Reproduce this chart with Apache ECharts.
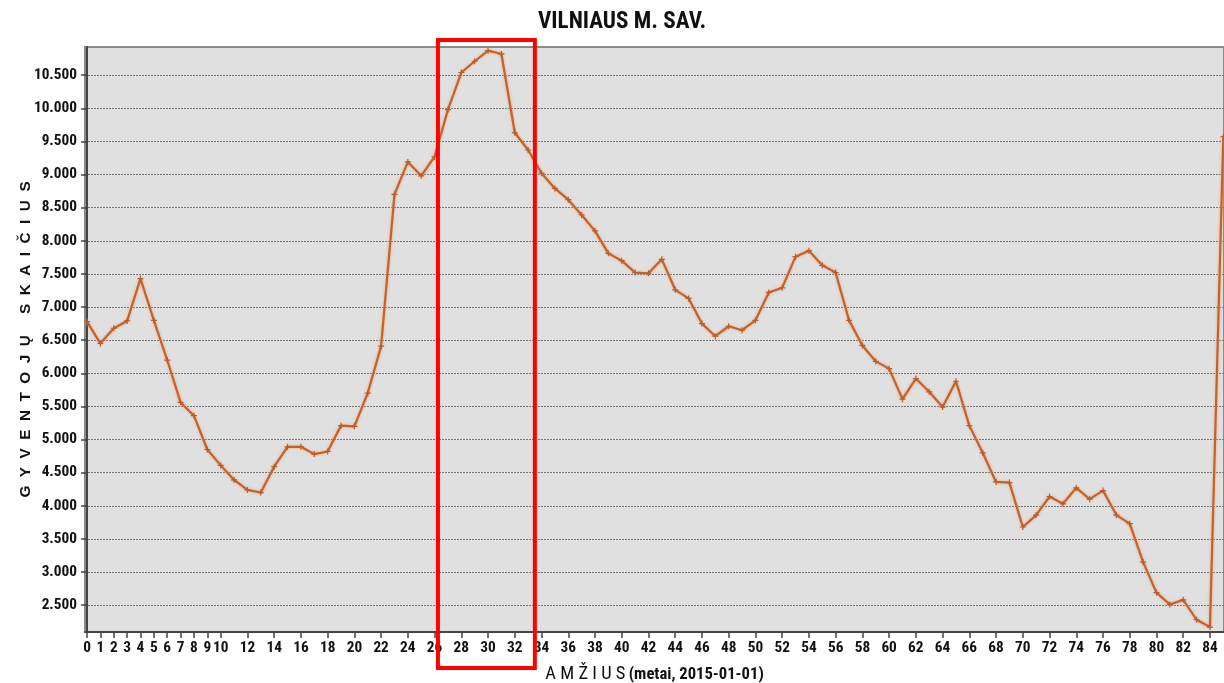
<!DOCTYPE html>
<html>
<head>
<meta charset="utf-8">
<script src="https://cdn.jsdelivr.net/npm/echarts@6/dist/echarts.min.js"></script>
<style>
html,body{margin:0;padding:0;background:#fff;}
#main{width:1224px;height:683px;}
</style>
</head>
<body>
<div id="main"></div>
<script>
// ---- data ----
const ages = [0,1,2,3,4,5,6,7,8,9,10,11,12,13,14,15,16,17,18,19,20,21,22,23,24,25,26,27,28,29,30,31,32,33,34,35,36,37,38,39,40,41,42,43,44,45,46,47,48,49,50,51,52,53,54,55,56,57,58,59,60,61,62,63,64,65,66,67,68,69,70,71,72,73,74,75,76,77,78,79,80,81,82,83,84,85];
const residents = [6780,6450,6680,6790,7430,6800,6200,5560,5360,4850,4610,4390,4240,4200,4590,4890,4890,4780,4820,5210,5200,5700,6410,8700,9190,8980,9270,9980,10540,10710,10870,10820,9630,9370,9020,8790,8620,8390,8150,7810,7700,7520,7510,7720,7260,7130,6750,6560,6710,6650,6800,7220,7290,7760,7850,7630,7520,6800,6420,6180,6070,5610,5920,5720,5490,5880,5210,4800,4360,4350,3680,3860,4140,4030,4270,4100,4230,3860,3730,3150,2690,2510,2580,2280,2170,9570];
const xTicks = [0,1,2,3,4,5,6,7,8,9,10,12,14,16,18,20,22,24,26,28,30,32,34,36,38,40,42,44,46,48,50,52,54,56,58,60,62,64,66,68,70,72,74,76,78,80,82,84];
const yTicks = [2500,3000,3500,4000,4500,5000,5500,6000,6500,7000,7500,8000,8500,9000,9500,10000,10500];
const highlightAges = [26.25, 33.5];
const titleText = 'VILNIAUS M. SAV.';
const yNameWords = ['GYVENTOJŲ', 'SKAIČIUS'];
const xNameA = 'A M Ž I U S';
const xNameB = '(metai, 2015-01-01)';

const NARROW = '"Roboto Condensed", "Open Sans Condensed", "Liberation Sans Narrow", "DejaVu Sans Condensed", sans-serif';
const WIDE = '"Liberation Sans", Arial, "DejaVu Sans", sans-serif';

// font sizing helpers (match text widths of the reference)
const mctx = document.createElement('canvas').getContext('2d');
function textW(text, family, weight, size) { mctx.font = weight + ' ' + size + 'px ' + family; return mctx.measureText(text).width; }
function fit(text, family, weight, target) { return Math.round(100 * target / textW(text, family, weight, 100) * 10) / 10; }

const titleSize = fit(titleText, NARROW, 'bold', 168);
const titleW = textW(titleText, NARROW, 'bold', titleSize);
const yLabSize = fit('10.500', NARROW, 'bold', 43);
const xLabSize = fit('12', NARROW, 'bold', 15.5);
const xNameASize = fit(xNameA, NARROW, 'normal', 80);
const xNameBSize = fit(xNameB, NARROW, 'bold', 135);
const yName = yNameWords.map(w => w.split('').join('  ')).join('     ');
const yNameSize = fit(yName, WIDE, 'bold', 316);

const seriesData = ages.map((a, i) => [a, residents[i]]);
const chart = echarts.init(document.getElementById('main'), null, {renderer: 'canvas'});
const fmt = v => { const s = String(Math.round(v)); return s.length > 3 ? s.slice(0, s.length - 3) + '.' + s.slice(-3) : s; };

chart.setOption({
  animation: false,
  backgroundColor: '#ffffff',
  title: {
    text: titleText,
    left: Math.round(617 - titleW / 2), top: 6,
    textStyle: {fontFamily: NARROW, fontWeight: 'bold', fontSize: titleSize, color: '#111'}
  },
  grid: {left: 85, right: 0, top: 47, bottom: 51, outerBoundsMode: 'none', containLabel: false,
         show: true, backgroundColor: '#e0e0e0', borderColor: '#8a8a8a', borderWidth: 2},
  xAxis: {
    type: 'value', min: -0.15, max: 85.05,
    name: '{a|' + xNameA + '} {b|' + xNameB + '}',
    nameLocation: 'middle', nameGap: 33, nameMoveOverlap: false,
    nameTextStyle: {
      rich: {
        a: {fontFamily: NARROW, fontSize: xNameASize, color: '#111'},
        b: {fontFamily: NARROW, fontSize: xNameBSize, fontWeight: 'bold', color: '#111'}
      }
    },
    axisLine: {show: true, onZero: false, lineStyle: {color: '#444', width: 2}},
    axisTick: {show: true, customValues: xTicks, length: 6, lineStyle: {color: '#444', width: 1.5}},
    axisLabel: {customValues: xTicks, formatter: v => String(v), margin: 9, fontFamily: NARROW, fontWeight: 'bold', fontSize: xLabSize, color: '#111', showMinLabel: true, showMaxLabel: true},
    splitLine: {show: false}
  },
  yAxis: {
    type: 'value', min: 2095, max: 10925,
    name: yName, nameLocation: 'middle', nameGap: 52, nameRotate: 90, nameMoveOverlap: false,
    nameTextStyle: {fontFamily: WIDE, fontWeight: 'bold', fontSize: yNameSize, color: '#111'},
    axisLine: {show: true, lineStyle: {color: '#444', width: 2}},
    axisTick: {show: true, customValues: yTicks, length: 6, lineStyle: {color: '#444', width: 1.5}},
    axisLabel: {customValues: yTicks, formatter: fmt, margin: 8, fontFamily: NARROW, fontWeight: 'bold', fontSize: yLabSize, color: '#111'},
    splitLine: {show: true, lineStyle: {color: '#777', type: [2, 1], width: 1}}
  },
  series: [{
    type: 'line',
    data: seriesData,
    symbol: 'path://M4,0h2v4h4v2h-4v4h-2v-4h-4v-2h4z',
    symbolSize: 6,
    showSymbol: true,
    itemStyle: {color: '#b95c2b'},
    lineStyle: {color: '#bf6330', width: 2.2, shadowColor: 'rgba(245,160,100,0.9)', shadowBlur: 3},
    clip: false
  }]
});

function drawBox() {
  const x0 = chart.convertToPixel({xAxisIndex: 0}, highlightAges[0]);
  const x1 = chart.convertToPixel({xAxisIndex: 0}, highlightAges[1]);
  chart.setOption({
    graphic: [{
      type: 'rect', z: 100,
      shape: {x: x0, y: 40, width: x1 - x0, height: 628},
      style: {fill: 'none', stroke: '#ff0000', lineWidth: 4}
    }]
  });
}
drawBox();
</script>
</body>
</html>
